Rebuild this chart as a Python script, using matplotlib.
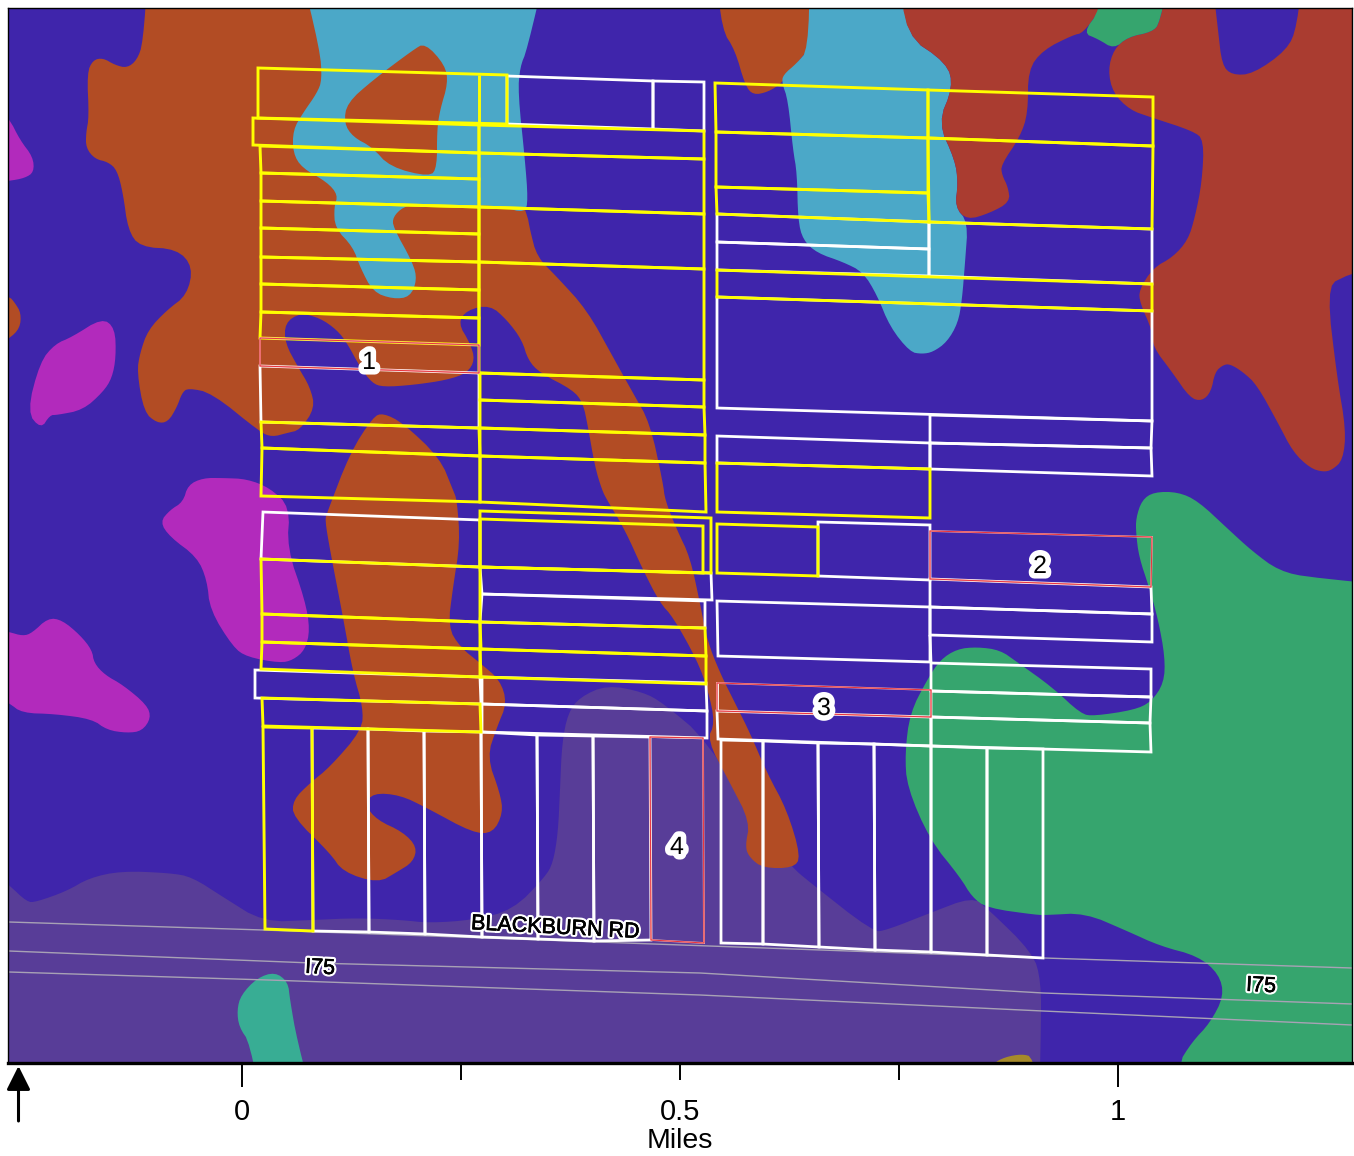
import numpy as np
import matplotlib
matplotlib.use("Agg")
import matplotlib.pyplot as plt
from matplotlib.patches import Polygon
import matplotlib.patheffects as pe

plt.rcParams['font.family'] = ['Liberation Sans', 'DejaVu Sans']

# ---- map data, in survey grid units (876 units = 1 mile, origin at the scale's zero / south edge) ----
UNITS_PER_MILE = 876.0
GRID_X0 = 242.0
GRID_Y0 = 1063.0
FRAME_X = (8, 1352)
FRAME_Y = (1063, 8)

BG_COLOR = '#3F25AB'
BROWN = '#B24C24'
BLUE = '#4BA8C8'
REDBROWN = '#AA3C30'
MAGENTA = '#B22ABC'
GREEN = '#36A56E'
HAZE = '#583D98'
TEAL = '#38AD94'
OLIVE = '#A68A2A'

haze_zone = [(-60,825),(9,885),(27,902),(36,902),(67,891),(89,878),(121,871),(170,873),(192,877),(223,897),
             (263,922),(313,920),(357,918),(402,920),(429,923),(473,920),(513,910),(545,877),(553,863),(558,833),
             (560,790),(562,743),(568,713),(580,697),(607,685),(643,692),(663,703),(707,740),(760,830),(793,868),
             (807,880),(873,932),(887,930),(930,913),(972,897),(987,908),(1033,953),(1041,981),(1041,1031),
             (1036,1250),(-250,1250),(-250,850)]
olive_zone = [(978,1110),(992,1064),(1005,1057),(1022,1054),(1033,1057),(1044,1110)]
teal_zone = [(275,972),(288,982),(290,1000),(297,1040),(318,1120),(264,1120),(250,1043),(239,1027),(237,1010),
             (241,995),(257,978)]

brown_main = [(148,-30),(143,43),(137,60),(127,68),(115,65),(103,58),(93,60),(87,73),(89,117),(86,133),(86,148),
              (95,159),(108,162),(117,170),(123,193),(128,230),(140,247),(177,249),(193,267),(187,295),(167,310),
              (148,330),(140,353),(137,372),(144,412),(157,423),(168,422),(177,407),(182,393),(188,388),(212,393),
              (260,432),(272,437),(287,433),(300,430),(315,408),(310,387),(298,367),(285,343),(285,323),(300,313),
              (320,318),(337,330),(347,343),(360,367),(372,383),(383,387),(413,385),(447,380),(467,373),(475,360),
              (470,343),(458,323),(467,310),(490,305),(507,320),(522,340),(528,360),(540,373),(573,390),(583,403),
              (588,427),(595,467),(602,490),(607,500),(625,530),(643,570),(660,603),(673,617),(697,660),(708,690),
              (715,723),(707,740),(730,783),(750,822),(745,847),(750,858),(763,868),(793,868),(801,857),(787,810),
              (767,773),(750,733),(737,707),(720,673),(707,640),(700,603),(690,557),(677,530),(665,500),(663,483),
              (650,423),(633,393),(613,357),(587,310),(557,277),(537,257),(530,230),(527,213),(500,150),(450,60),
              (400,20),(320,-30)]
brown_south = [(383,413),(403,423),(440,458),(453,490),(457,500),(460,543),(453,587),(448,627),(460,647),(480,663),
               (500,680),(507,703),(497,727),(487,757),(500,793),(503,813),(493,833),(473,833),(427,808),(400,795),
               (373,793),(365,805),(377,820),(403,832),(417,847),(413,862),(397,872),(378,883),(343,872),(330,853),
               (293,817),(293,800),(310,783),(330,767),(362,730),(363,707),(353,673),(343,617),(330,550),(325,520),
               (327,513),(350,453),(373,417)]
brown_islet = [(425,43),(445,65),(448,83),(440,110),(437,130),(437,167),(430,177),(390,167),(372,147),(353,137),
               (344,123),(347,103),(373,80),(413,50)]
brown_north = [(716,-30),(722,30),(735,50),(745,85),(753,95),(768,92),(782,83),(797,63),(808,50),(814,30),(814,-30)]
brown_west = [(-40,280),(9,296),(15,303),(21,313),(20,328),(9,339),(-40,370)]
brown_east = [(1319,762),(1331,750),(1342,754),(1400,830),(1400,900),(1352,846),(1339,830),(1336,800),(1322,777)]

blue_west = [(298,-40),(320,50),(322,80),(317,93),(303,113),(293,130),(293,153),(302,168),(327,182),(338,195),
             (334,207),(335,228),(353,247),(360,267),(373,292),(393,299),(410,297),(417,280),(413,263),(393,227),
             (393,217),(403,207),(420,203),(463,208),(480,205),(503,207),(525,213),(528,200),(525,160),(518,93),
             (520,67),(527,50),(548,-40)]
blue_east = [(810,-30),(808,50),(797,63),(783,75),(782,83),(788,100),(793,150),(797,173),(798,220),(803,240),
             (817,253),(843,262),(863,272),(877,295),(890,327),(910,352),(922,354),(933,352),(947,342),(958,323),
             (962,300),(965,263),(968,222),(955,207),(958,183),(955,160),(938,123),(953,87),(947,63),(905,35),(903,-30)]

redbrown_mid = [(901,-30),(905,35),(947,63),(953,87),(938,123),(955,160),(958,183),(955,207),(967,220),(990,213),
                (1010,202),(1008,187),(1002,175),(1001,165),(1020,137),(1028,113),(1028,70),(1043,50),(1073,35),
                (1083,33),(1100,10),(1115,-30)]
redbrown_east = [(1172,-40),(1160,23),(1152,32),(1128,37),(1114,49),(1108,70),(1113,93),(1130,110),(1150,117),
                 (1193,131),(1204,140),(1202,182),(1195,217),(1188,240),(1173,257),(1153,268),(1139,290),(1140,303),
                 (1152,330),(1153,347),(1172,372),(1190,398),(1202,401),(1211,392),(1215,372),(1223,365),(1230,364),
                 (1243,372),(1257,385),(1278,423),(1293,452),(1310,468),(1323,472),(1332,470),(1343,460),(1346,430),
                 (1337,377),(1327,292),(1340,275),(1480,240),(1480,-120),(1304,-40),(1297,27),(1287,50),(1253,74),
                 (1232,75),(1222,65),(1218,30),(1210,-40)]

green_north = [(1083,33),(1100,10),(1106,-40),(1172,-40),(1160,23),(1152,32),(1128,37),(1114,49),(1098,39)]
green_main = [(1154,492),(1178,492),(1198,501),(1228,529),(1252,551),(1279,571),(1312,578),(1500,595),(1500,1300),
              (1150,1300),(1177,1066),(1192,1042),(1210,1023),(1224,996),(1219,974),(1198,956),(1160,946),(1127,931),
              (1085,913),(1047,915),(1037,915),(987,908),(972,897),(960,877),(930,840),(907,787),(905,753),(910,713),
              (927,680),(940,660),(957,649),(977,647),(1000,650),(1017,662),(1052,687),(1081,714),(1094,716),
              (1134,710),(1151,702),(1164,683),(1165,657),(1158,619),(1149,587),(1139,557),(1136,533),(1136,518),
              (1142,500)]

magenta_a = [(-30,70),(9,118),(20,140),(33,157),(34,172),(25,178),(9,181),(-30,185)]
magenta_b = [(102,318),(115,328),(116,357),(112,378),(103,392),(83,410),(57,415),(50,415),(41,429),(27,412),(40,362),
             (55,344),(72,337)]
magenta_c = [(203,478),(223,478),(247,479),(270,488),(290,507),(287,548),(305,600),(310,630),(305,650),(293,660),
             (280,663),(247,657),(233,647),(210,610),(207,580),(197,557),(170,537),(160,522),(170,510),(183,502),(188,485)]
magenta_d = [(-30,622),(9,632),(23,636),(32,633),(48,618),(62,620),(80,635),(92,650),(94,663),(105,675),(123,685),
             (147,705),(151,718),(142,731),(127,733),(107,730),(92,719),(55,714),(22,713),(9,703),(-30,680)]

road_north = [(9,922),(263,930),(1044,958),(1352,968)]
road_mid = [(9,951),(312,963),(700,973),(1043,993),(1352,1004)]
road_south = [(9,972),(268,980),(700,995),(1043,1011),(1352,1025)]

white_parcels = [
    [(507,76),(653,81),(653,129),(507,124)], [(653,81),(704,82),(704,131),(653,129)],
    [(260,366),(479,373),(479,428),(261,422)],
    [(263,512),(480,520),(480,567),(261,559)],
    [(255,670),(480,677),(481,704),(255,698)],
    [(480,567),(711,573),(712,600),(482,594)], [(482,594),(705,601),(705,628),(480,622)],
    [(482,677),(706,683),(707,711),(482,704)], [(482,704),(707,711),(707,738),(482,732)],
    [(312,728),(368,729),(369,932),(313,931)], [(368,729),(424,731),(425,934),(369,932)],
    [(424,731),(481,732),(482,937),(425,934)], [(481,732),(537,735),(538,939),(482,937)],
    [(537,735),(593,736),(594,941),(538,939)], [(593,736),(650,737),(651,940),(594,941)],
    [(721,740),(763,741),(763,944),(721,943)], [(763,741),(818,743),(819,947),(763,944)],
    [(818,743),(874,744),(875,950),(819,947)], [(874,744),(931,746),(931,952),(875,950)],
    [(931,746),(987,748),(987,955),(931,952)], [(987,748),(1043,749),(1043,958),(987,955)],
    [(717,214),(929,222),(929,249),(717,242)], [(717,242),(929,249),(929,276),(717,270)],
    [(929,222),(1152,229),(1152,284),(929,276)],
    [(717,297),(1152,311),(1152,421),(717,408)], [(930,415),(1152,421),(1151,448),(930,443)],
    [(717,436),(930,443),(930,469),(717,463)], [(930,443),(1151,448),(1152,476),(930,469)],
    [(818,522),(930,525),(930,580),(818,576)],
    [(717,601),(930,607),(930,662),(718,656)],
    [(930,579),(1151,587),(1152,614),(930,607)], [(930,607),(1152,614),(1152,642),(930,635)],
    [(930,635),(931,663)],
    [(931,663),(1151,669),(1151,697),(931,691)], [(931,691),(1151,697),(1150,723),(931,717)],
    [(931,717),(1150,723),(1151,752),(931,746)],
    [(717,711),(931,717),(931,746),(718,739)], [(717,683),(717,711)],
]
yellow_parcels = [
    [(258,68),(507,75),(507,124),(258,118)], [(479,75),(479,125)],
    [(253,118),(479,125),(479,153),(253,145)], [(260,146),(479,153),(479,179),(261,173)],
    [(261,173),(479,179),(479,207),(261,201)], [(261,201),(479,207),(479,234),(261,228)],
    [(261,228),(479,234),(479,262),(261,257)], [(261,257),(479,262),(479,290),(261,284)],
    [(261,284),(479,290),(479,318),(261,312)], [(261,312),(479,318),(479,345),(260,338)],
    [(261,422),(479,428),(480,456),(262,448)], [(262,448),(480,456),(480,502),(261,496)],
    [(479,125),(704,131),(704,159),(479,153)], [(479,153),(704,159),(704,214),(479,207)],
    [(479,207),(704,214),(704,269),(479,262)], [(479,262),(704,269),(704,380),(479,373)],
    [(480,373),(704,380),(704,407),(480,400)], [(480,400),(704,407),(705,435),(480,428)],
    [(480,428),(705,435),(705,463),(480,456)], [(480,456),(705,463),(706,512),(480,502)],
    [(261,559),(480,567),(480,622),(262,614)], [(262,614),(480,622),(481,649),(262,642)],
    [(262,642),(480,649),(481,677),(261,669)], [(262,698),(480,704),(481,732),(263,726)],
    [(480,511),(711,518),(711,573),(480,567)], [(480,519),(703,526),(703,573),(480,567)],
    [(480,622),(705,628),(706,656),(480,649)], [(480,649),(706,656),(706,684),(480,677)],
    [(263,727),(312,728),(313,931),(265,929)],
    [(715,83),(928,90),(928,138),(716,132)], [(928,90),(1153,97),(1153,146),(928,138)],
    [(716,132),(928,138),(928,193),(716,187)], [(716,187),(928,193),(929,222),(717,214)],
    [(928,138),(1153,146),(1152,229),(929,222)],
    [(717,270),(1152,284),(1152,311),(717,297)],
    [(717,463),(930,469),(930,518),(717,512)],
    [(717,524),(818,527),(818,576),(717,573)],
]
red_parcels = [
    [(260,338),(479,345),(479,373),(260,366)],
    [(930,531),(1152,537),(1151,587),(930,579)],
    [(717,683),(931,690),(931,717),(717,711)],
    [(650,737),(703,738),(704,943),(651,940)],
]
parcel_numbers = ['1', '2', '3', '4']
number_xy = [(369,362), (1040,566), (824,708), (677,847)]
road_labels = ['BLACKBURN RD', 'I75', 'I75']
road_label_xy = [(555,928), (320,968), (1261,986)]
road_label_rot = [-3, -3, -3]

major_miles = [0, 0.5, 1]
major_labels = ['0', '0.5', '1']
minor_miles = [0.25, 0.75]
axis_label = 'Miles'


def to_miles(points):
    pts = np.asarray(points, float)
    return np.column_stack([(pts[:, 0] - GRID_X0) / UNITS_PER_MILE, (GRID_Y0 - pts[:, 1]) / UNITS_PER_MILE])


def rounded(points, passes=2):
    pts = np.asarray(points, float)
    for _ in range(passes):
        nxt = np.roll(pts, -1, axis=0)
        pts = np.column_stack([0.75 * pts + 0.25 * nxt, 0.25 * pts + 0.75 * nxt]).reshape(-1, 2)
    return pts


fig = plt.figure(figsize=(13.54, 11.56), dpi=100, facecolor='white')
W, H = 1354.0, 1156.0
ax = fig.add_axes([FRAME_X[0] / W, (H - FRAME_Y[0]) / H, (FRAME_X[1] - FRAME_X[0]) / W, (FRAME_Y[0] - FRAME_Y[1]) / H])
ax.set_facecolor(BG_COLOR)
ax.set_xlim((FRAME_X[0] - GRID_X0) / UNITS_PER_MILE, (FRAME_X[1] - GRID_X0) / UNITS_PER_MILE)
ax.set_ylim((GRID_Y0 - FRAME_Y[0]) / UNITS_PER_MILE, (GRID_Y0 - FRAME_Y[1]) / UNITS_PER_MILE)

zones = [(haze_zone, HAZE), (olive_zone, OLIVE), (teal_zone, TEAL), (brown_main, BROWN), (brown_south, BROWN),
         (brown_north, BROWN), (brown_west, BROWN), (brown_east, BROWN), (blue_west, BLUE), (blue_east, BLUE),
         (brown_islet, BROWN), (redbrown_mid, REDBROWN), (redbrown_east, REDBROWN), (green_north, GREEN),
         (green_main, GREEN), (magenta_a, MAGENTA), (magenta_b, MAGENTA), (magenta_c, MAGENTA), (magenta_d, MAGENTA)]
for pts, col in zones:
    ax.add_patch(Polygon(to_miles(rounded(pts)), closed=True, facecolor=col, edgecolor='none', zorder=2))

for road in (road_north, road_mid, road_south):
    m = to_miles(road)
    ax.plot(m[:, 0], m[:, 1], color='#A8A2B5', lw=1.0, zorder=3)

for parcel in white_parcels:
    ax.add_patch(Polygon(to_miles(parcel), closed=True, fill=False, edgecolor='white', lw=2.0, joinstyle='miter', zorder=4))
for parcel in yellow_parcels:
    ax.add_patch(Polygon(to_miles(parcel), closed=True, fill=False, edgecolor='#FFFF00', lw=2.1, joinstyle='miter', zorder=5))
for parcel in red_parcels:
    ax.add_patch(Polygon(to_miles(parcel), closed=True, fill=False, edgecolor='#F7B5B5', lw=1.3, joinstyle='miter', zorder=6))
    ax.add_patch(Polygon(to_miles(parcel), closed=True, fill=False, edgecolor='#E8303A', lw=0.7, joinstyle='miter', zorder=6))

for num, xy in zip(parcel_numbers, number_xy):
    m = to_miles([xy])[0]
    ax.text(m[0], m[1], num, fontsize=18, color='black', ha='center', va='center', zorder=8,
            path_effects=[pe.withStroke(linewidth=8, foreground='white')])
for lab, xy, rot in zip(road_labels, road_label_xy, road_label_rot):
    m = to_miles([xy])[0]
    ax.text(m[0], m[1], lab, fontsize=15.5, color='black', ha='center', va='center', rotation=rot,
            rotation_mode='anchor', zorder=8,
            path_effects=[pe.withStroke(linewidth=3.5, foreground='white'),
                          pe.withStroke(linewidth=0.4, foreground='black')])

for side, lw in (('top', 1.0), ('left', 1.0), ('right', 1.0), ('bottom', 2.4)):
    ax.spines[side].set_linewidth(lw)
    ax.spines[side].set_color('black')
    ax.spines[side].set_zorder(10)

ax.set_yticks([])
ax.set_xticks(major_miles)
ax.set_xticklabels(major_labels, fontsize=21)
ax.set_xticks(minor_miles, minor=True)
ax.tick_params(axis='x', which='major', length=17, width=1.4, color='black', pad=8)
ax.tick_params(axis='x', which='minor', length=12, width=1.4, color='black')
ax.xaxis.get_major_ticks()[1].tick1line.set_markersize(12)
ax.set_xlabel(axis_label, fontsize=20.5, labelpad=2)

# north arrow under the frame's lower-left corner
tip = to_miles([(18.5, 1066)])[0]
tail = to_miles([(18.5, 1121)])[0]
ax.annotate('', xy=tip, xytext=tail, annotation_clip=False, zorder=12,
            arrowprops=dict(arrowstyle='-|>,head_length=0.72,head_width=0.36', mutation_scale=20, lw=2.2,
                            color='black', shrinkA=0, shrinkB=0))

fig.savefig('out.png', dpi=100)
